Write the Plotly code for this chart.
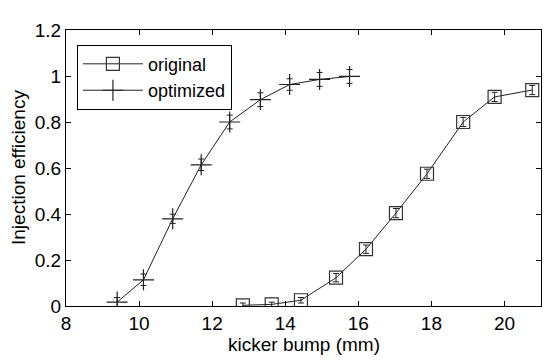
import plotly.graph_objects as go

# kicker bump (mm) vs injection efficiency
orig_x = [12.84, 13.63, 14.43, 15.39, 16.21, 17.03, 17.88, 18.87, 19.73, 20.76]
orig_y = [0.003, 0.007, 0.025, 0.123, 0.247, 0.404, 0.575, 0.800, 0.909, 0.939]
orig_err = [0.01, 0.01, 0.012, 0.018, 0.018, 0.02, 0.02, 0.02, 0.02, 0.02]

opt_x = [9.40, 10.12, 10.92, 11.70, 12.48, 13.32, 14.12, 14.94, 15.76]
opt_y = [0.017, 0.114, 0.379, 0.614, 0.800, 0.897, 0.963, 0.985, 0.998]
opt_err = [0.02, 0.025, 0.02, 0.025, 0.03, 0.03, 0.025, 0.03, 0.03]

x_ticks = [8, 10, 12, 14, 16, 18, 20]
y_ticks = [0, 0.2, 0.4, 0.6, 0.8, 1, 1.2]
y_labels = ["0", "0.2", "0.4", "0.6", "0.8", "1", "1.2"]

fig = go.Figure()
fig.add_trace(go.Scatter(
    x=orig_x, y=orig_y, name="original", mode="lines+markers",
    line=dict(color="#222", width=1),
    marker=dict(symbol="square-open", size=13, color="#333", line=dict(width=1.2)),
    error_y=dict(type="data", array=orig_err, color="#222", thickness=1, width=3),
))
fig.add_trace(go.Scatter(
    x=opt_x, y=opt_y, name="optimized", mode="lines+markers",
    line=dict(color="#222", width=1),
    marker=dict(symbol="cross-thin-open", size=15, color="#222", line=dict(width=1.2)),
    error_y=dict(type="data", array=opt_err, color="#222", thickness=1, width=3),
))

axis_style = dict(
    showline=True, linecolor="black", linewidth=1, mirror="ticks",
    ticks="inside", ticklen=5, tickcolor="black", showgrid=False, zeroline=False,
    tickfont=dict(size=19, color="black"),
)
fig.update_xaxes(range=[8, 21], tickvals=x_ticks, **axis_style)
fig.update_yaxes(range=[0, 1.2], tickvals=y_ticks, ticktext=y_labels, **axis_style)

# axis titles as annotations so they sit where the reference has them
fig.add_annotation(text="kicker bump (mm)", xref="paper", yref="paper", x=0.5, y=0,
                   xanchor="center", yanchor="middle", yshift=-38, showarrow=False,
                   font=dict(size=19, color="black"))
fig.add_annotation(text="Injection efficiency", xref="paper", yref="paper", x=0, y=0.5,
                   xanchor="center", yanchor="middle", xshift=-48, textangle=-90,
                   showarrow=False, font=dict(size=19, color="black"))

# page body has an 8px margin, so the plot box is shifted by that much
fig.update_layout(
    width=554, height=360,
    margin=dict(l=58, r=21, t=14, b=62),
    paper_bgcolor="white", plot_bgcolor="white",
    font=dict(family="Liberation Sans, Arial, sans-serif", color="black"),
    legend=dict(x=0.023, y=0.947, xanchor="left", yanchor="top",
                bgcolor="white", bordercolor="black", borderwidth=1,
                font=dict(size=18), tracegroupgap=0, itemwidth=60),
)

fig.write_html("out.html")
